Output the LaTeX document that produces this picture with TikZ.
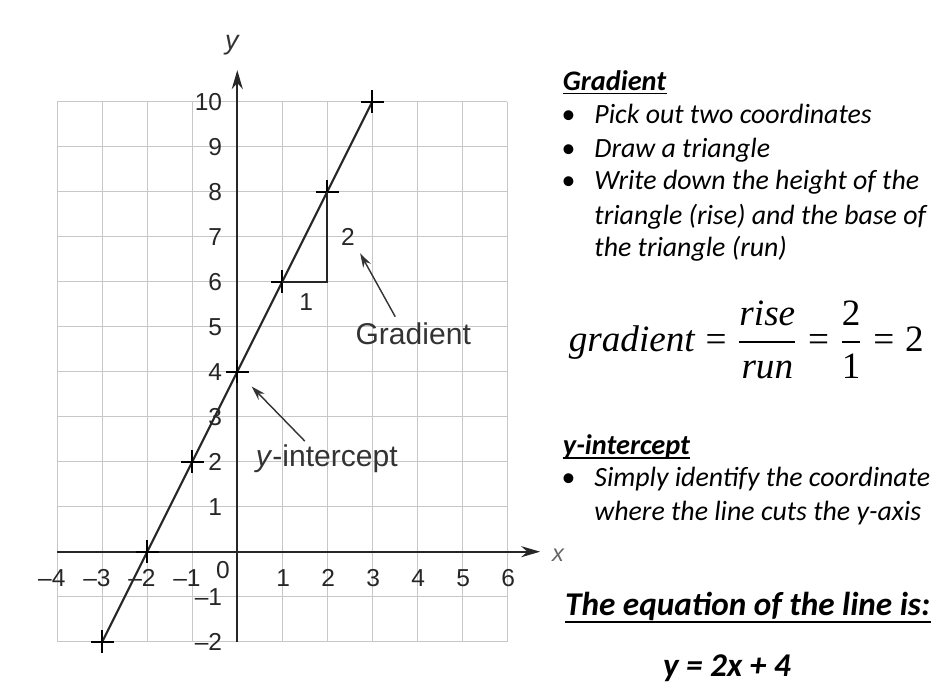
\documentclass[tikz,border=0pt]{standalone}
\usepackage{amsmath}
\usepackage{fontspec}
\setmainfont{Carlito}
\newfontfamily\graphfont{Liberation Sans}
\newfontfamily\formulafont{Liberation Serif}
\usetikzlibrary{arrows.meta,positioning}
\newcommand{\bul}{\llap{\upshape\textbullet\hspace{12pt}}}

\begin{document}
\begin{tikzpicture}[
    x=1cm,y=1cm,
    gridline/.style={black!22,line width=0.5pt},
    axis/.style={black!85,line width=1.1pt,-{Stealth[length=12pt,width=7pt]}},
    graphline/.style={black!85,line width=1.3pt},
    crosspen/.style={black,line width=1.5pt},
    ticklbl/.style={inner sep=0pt,text=black!85,font=\graphfont\fontsize{15.5}{18}\selectfont},
    graphlbl/.style={inner sep=0pt,text=black!80,font=\graphfont\fontsize{19}{22}\selectfont},
    pointer/.style={black!80,line width=0.9pt,-{Stealth[length=9pt,width=5.5pt]}},
    txt/.style={anchor=base west,inner sep=0pt,font=\itshape\fontsize{17.6}{21}\selectfont},
    head/.style={txt,font=\bfseries\itshape\fontsize{17.9}{21}\selectfont},
    bighead/.style={txt,font=\bfseries\itshape\fontsize{21}{25}\selectfont},
    uline/.style={line width=1pt}]
  \useasboundingbox (-5.273,-2.918) rectangle (15.438,12.26);

  % grid and axes
  \draw[gridline] (-4,-2) grid (6,10);
  \coordinate (xfrom) at (-4,0);
  \coordinate (xto) at (6.73,0);
  \coordinate (yfrom) at (0,-2);
  \coordinate (yto) at (0,10.7);
  \draw[axis] (xfrom) -- (xto);
  \draw[axis] (yfrom) -- (yto);
  \node[graphlbl,text=black!60,font=\graphfont\itshape\fontsize{15}{18}\selectfont] (xlbl) at (7.13,-0.07) {x};
  \node[graphlbl,font=\graphfont\itshape\fontsize{17}{20}\selectfont] (ylbl) at (-0.12,11.26) {y};

  % tick labels
  \foreach \v in {1,...,10}
    \node[ticklbl,anchor=east] (ytick\v) at (-0.33,\v) {\v};
  \foreach \v in {1,2}
    \node[ticklbl,anchor=east] (ytickm\v) at (-0.33,-\v) {\textendash\v};
  \foreach \v in {1,...,6}
    \node[ticklbl] (xtick\v) at (\v+0.02,-0.59) {\v};
  \foreach \v in {1,...,4}
    \node[ticklbl,anchor=east] (xtickm\v) at (-\v+0.19,-0.59) {\textendash\v};
  \node[ticklbl] (xtick0) at (-0.32,-0.41) {0};

  % the line y = 2x + 4
  \foreach \i in {-3,...,3}
    \coordinate (pt\i) at (\i,{2*\i+4});
  \draw[graphline] (pt-3) -- (pt3);
  \foreach \i in {-3,...,3}
    \draw[crosspen] ([xshift=-0.25cm]pt\i) -- ([xshift=0.25cm]pt\i)
                    ([yshift=-0.25cm]pt\i) -- ([yshift=0.25cm]pt\i);

  % rise and run
  \coordinate (corner) at (2,6);
  \draw[graphline,line width=1.1pt] (pt1) -- (corner) -- (pt2);
  \node[ticklbl] (risenum) at (2.46,7.0) {2};
  \node[ticklbl] (runnum) at (1.53,5.55) {1};

  % pointers
  \node[graphlbl] (gradlbl) at (3.91,4.85) {Gradient};
  \coordinate (gradtip) at (2.73,6.63);
  \draw[pointer] ([xshift=-0.4cm,yshift=0.12cm]gradlbl.north) -- (gradtip);
  \node[graphlbl] (yintlbl) at (1.99,2.07) {\textit{y}-intercept};
  \coordinate (yinttip) at (0.32,3.67);
  \draw[pointer] ([xshift=-0.49cm,yshift=0.07cm]yintlbl.north) -- (yinttip);

  % notes on the right
  \node[head] (gradhead) at (7.23,10.24) {Gradient};
  \draw[uline] ([yshift=-1.7pt]gradhead.base west) -- ([yshift=-1.7pt]gradhead.base east);
  \node[txt] (pick) at (7.93,9.52) {\bul Pick out two coordinates};
  \node[txt] (drawtri) at (7.93,8.76) {\bul Draw a triangle};
  \node[txt] (write) at (7.93,8.04) {\bul Write down the height of the};
  \node[txt] (rise) at (7.93,7.28) {triangle (rise) and the base of};
  \node[txt] (run) at (7.93,6.56) {the triangle (run)};

  \node[anchor=base west,inner sep=0pt,font=\formulafont\fontsize{23.5}{28}\selectfont] (formula) at (7.36,4.44)
    {$\displaystyle\textit{gradient}\mathrel{\text{=}}\frac{\textit{rise}}{\textit{run}}\mathrel{\text{=}}\frac{\text{2}}{\text{1}}\mathrel{\text{=}}\text{2}$};

  \node[head] (yinthead) at (7.23,2.15) {y-intercept};
  \draw[uline] ([yshift=-2.1pt]yinthead.base west) -- ([yshift=-2.1pt]yinthead.base east);
  \node[txt] (simply) at (7.93,1.44) {\bul Simply identify the coordinate};
  \node[txt] (where) at (7.93,0.70) {where the line cuts the y-axis};

  \node[bighead] (eqhead) at (7.28,-1.41) {The equation of the line is:};
  \draw[uline,line width=1.4pt] ([yshift=-4.2pt]eqhead.base west) -- ([yshift=-4.2pt]eqhead.base east);
  \node[bighead,anchor=base] (eqn) at (10.88,-2.78) {y = 2x + 4};
\end{tikzpicture}
\end{document}
